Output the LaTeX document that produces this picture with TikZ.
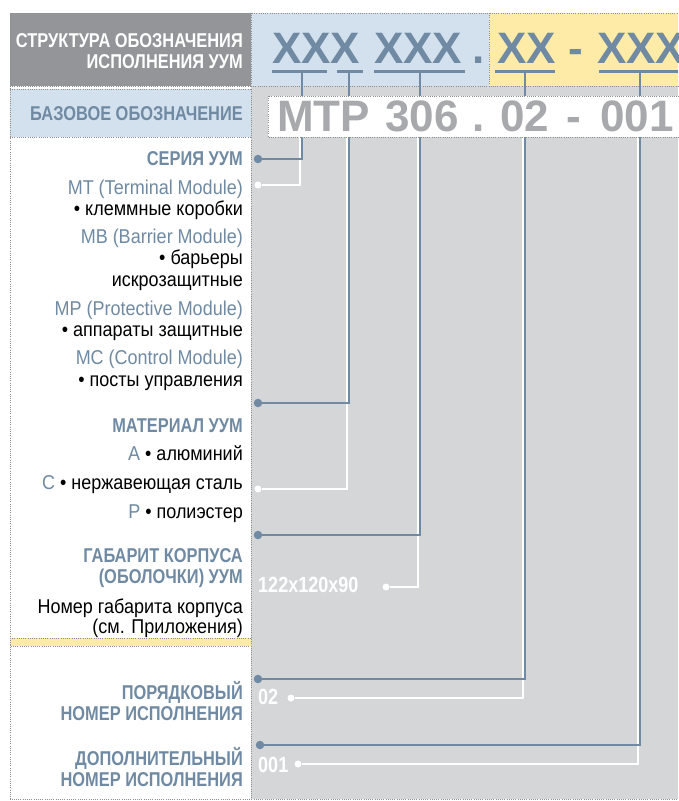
\documentclass[tikz,border=0pt]{standalone}
\usepackage{fontspec}
\setmainfont{Liberation Sans}[FakeStretch=0.9]
\newfontfamily\headfont{Liberation Sans}[FakeStretch=0.82]
\newfontfamily\codefont{Liberation Sans}
\definecolor{uumblue}{HTML}{6F8AA2}
\definecolor{headgray}{HTML}{939598}
\definecolor{paleblue}{HTML}{D3E1EE}
\definecolor{paleyellow}{HTML}{FEEBA8}
\definecolor{panelgray}{HTML}{D5D6D8}
\definecolor{codegray}{HTML}{A7A9AC}
\definecolor{dotgray}{HTML}{8C8E91}
\tikzset{
  head/.style={anchor=base east, font=\headfont\fontsize{20}{22}\selectfont\bfseries, text=uumblue},
  item/.style={anchor=base east, font=\fontsize{20}{22}\selectfont, text=uumblue},
  note/.style={anchor=base east, font=\fontsize{20}{22}\selectfont, text=black},
  code/.style={anchor=base west, font=\codefont\fontsize{44}{44}\selectfont\bfseries},
  val/.style={anchor=west, font=\headfont\fontsize{22}{22}\selectfont\bfseries, text=white},
  dots/.style={dotgray, line width=0.9pt, dash pattern=on 0.9pt off 1.3pt},
  bline/.style={uumblue, line width=2.2pt},
  wline/.style={white, line width=1.6pt},
  uline/.style={uumblue, line width=3pt},
  bdot/.style={circle, fill=uumblue, minimum size=8.5pt},
  wdot/.style={circle, fill=white, minimum size=7pt}
}
\begin{document}
\begin{tikzpicture}[x=1pt, y=-1pt, every node/.append style={inner sep=0pt}]
  \useasboundingbox (0,0) rectangle (678,801);
  \fill[headgray] (10,13) rectangle (251,86);
  \fill[paleblue] (251,13) rectangle (489,86);
  \fill[paleyellow] (489,13) rectangle (678,86);
  \fill[paleblue] (10,89) rectangle (251,137);
  \fill[panelgray] (251,86) rectangle (678,799);
  \fill[paleyellow] (10,638) rectangle (251,646);
  \draw[dots] (10,13) -- (678,13) (10,86) -- (251,86) (251,86) -- (678,86)
    (251,13) -- (251,86) (489,13) -- (489,86);
  \draw[dots] (10,13) -- (10,799) -- (678,799) (251,89) -- (251,799)
    (10,89) -- (251,89) (10,137) -- (251,137);
  \draw[dots] (10,638) rectangle (251,646);

  \foreach \a/\b in {272/327, 337/363, 374/465, 495/555, 599/678}
    \draw[uline] (\a,71) -- (\b,71);
  \foreach \n/\x/\yb/\bx/\yw/\wx in {1/302/159/258/185/258, 2/349/403/258/489/258,
      3/420/535/258/587/386, 4/525/679/258/698/291, 5/640/745/260/764/298} {
    \coordinate (u\n) at (\x,71);
    \coordinate (s\n) at ({\x-2},137);
    \node[bdot] (b\n) at (\bx,\yb) {};
    \node[wdot] (w\n) at (\wx,\yw) {};
    \draw[wline] (s\n) |- (w\n);
    \draw[bline] (u\n) |- (b\n);
  }
  \draw[dots, fill=white] (268,96) rectangle (690,137);

  \node[head, text=white] (title1) at (243,47) {СТРУКТУРА ОБОЗНАЧЕНИЯ};
  \node[head, text=white] (title2) at (243,68) {ИСПОЛНЕНИЯ УУМ};
  \node[head] (basis) at (243,120) {БАЗОВОЕ ОБОЗНАЧЕНИЕ};
  \foreach \x/\t [count=\i] in {272/XXX, 374/XXX, 472/., 497/XX, 568/-, 597/XXX}
    \node[code, text=uumblue] (mask\i) at (\x,63) {\t};
  \foreach \x/\t [count=\i] in {277/MTP, 385/306, 472/., 500/02, 566/-, 600/001}
    \node[code, text=codegray] (code\i) at (\x,131) {\t};

  \foreach \y/\t [count=\i] in {165/СЕРИЯ УУМ, 432/МАТЕРИАЛ УУМ, 562/ГАБАРИТ КОРПУСА,
      583/(ОБОЛОЧКИ) УУМ, 699/ПОРЯДКОВЫЙ, 720/НОМЕР ИСПОЛНЕНИЯ,
      765/ДОПОЛНИТЕЛЬНЫЙ, 786/НОМЕР ИСПОЛНЕНИЯ}
    \node[head] (head\i) at (243,\y) {\t};
  \foreach \y/\t [count=\i] in {194/MT (Terminal Module), 243/MB (Barrier Module),
      315/MP (Protective Module), 364/MC (Control Module)}
    \node[item] (series\i) at (243,\y) {\t};
  \foreach \y/\t [count=\i] in {215/• клеммные коробки, 264/• барьеры, 286/искрозащитные,
      336/• аппараты защитные, 386/• посты управления,
      613/Номер габарита корпуса, 633/(см. Приложения)}
    \node[note] (note\i) at (243,\y) {\t};
  \foreach \y/\l/\t [count=\i] in {460/A/алюминий, 489/C/нержавеющая сталь, 518/P/полиэстер}
    \node[note] (mat\i) at (243,\y) {\textcolor{uumblue}{\l} • \t};

  \node[val] (size) at (258,585) {122x120x90};
  \node[val] (num) at (258,697) {02};
  \node[val] (extra) at (258,765) {001};
\end{tikzpicture}
\end{document}
